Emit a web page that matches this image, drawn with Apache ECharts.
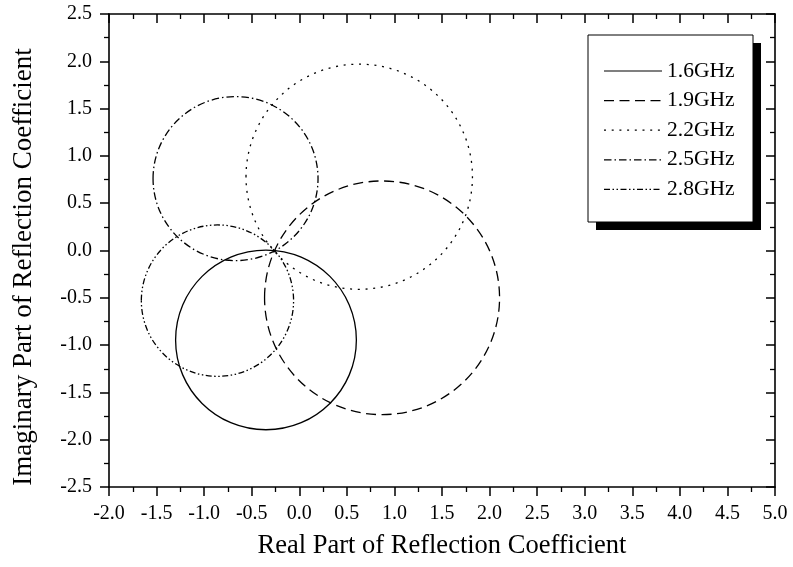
<!DOCTYPE html>
<html>
<head>
<meta charset="utf-8">
<script src="https://cdn.jsdelivr.net/npm/echarts@6/dist/echarts.min.js"></script>
<style>
  html, body { margin: 0; padding: 0; background: #fff; }
  #chart { width: 793px; height: 567px; }
</style>
</head>
<body>
<div id="chart"></div>
<script>
// Reflection coefficient circles, one per frequency
const frequencies = ['1.6GHz', '1.9GHz', '2.2GHz', '2.5GHz', '2.8GHz'];
const centerReal  = [-0.35, 0.87, 0.63, -0.67, -0.86];
const centerImag  = [-0.945, -0.50, 0.78, 0.76, -0.53];
const radii       = [0.95, 1.235, 1.19, 0.867, 0.80];

// Axis ranges and tick step
const xRange = [-2.0, 5.0];
const yRange = [-2.5, 2.5];
const tickStep = 0.5;

// Line patterns: solid, dash, dot, dash-dot, dash-dot-dot
const linePatterns = [
  null,
  [10, 5.5],
  [2, 5.7],
  [7.5, 3, 1.5, 3],
  [6, 2.5, 1.5, 2.5, 1.5, 2.5]
];

const FONT = '"Liberation Serif", "Times New Roman", serif';
const chart = echarts.init(document.getElementById('chart'), null, { renderer: 'canvas' });

function axisCommon(range, mirrored) {
  return {
    type: 'value',
    min: range[0],
    max: range[1],
    interval: tickStep,
    axisLine: { show: true, onZero: false, lineStyle: { color: '#000', width: 1.6 } },
    axisTick: { show: true, inside: mirrored, length: 9, lineStyle: { color: '#000', width: 1.5 } },
    minorTick: { show: true, splitNumber: 2, length: 5, lineStyle: { color: '#000', width: 1.3 } },
    splitLine: { show: false },
    minorSplitLine: { show: false },
    axisLabel: mirrored ? { show: false } : {
      show: true,
      color: '#000',
      fontFamily: FONT,
      fontSize: 20,
      margin: 17,
      formatter: v => v.toFixed(1)
    }
  };
}

const series = frequencies.map((name, i) => ({
  type: 'custom',
  name: name,
  coordinateSystem: 'cartesian2d',
  xAxisIndex: 0,
  yAxisIndex: 0,
  encode: { x: 0, y: 1 },
  data: [[centerReal[i], centerImag[i], radii[i]]],
  renderItem: function (params, api) {
    const c = api.coord([api.value(0), api.value(1)]);
    const s = api.size([api.value(2), api.value(2)]);
    return {
      type: 'ellipse',
      shape: { cx: c[0], cy: c[1], rx: s[0], ry: s[1] },
      style: {
        fill: null,
        stroke: '#000',
        lineWidth: 1.3,
        lineDash: linePatterns[i]
      }
    };
  }
}));

// Legend panel with drop shadow
const legendBox = { left: 588, top: 35, width: 165, height: 187, shadow: 8 };
const legendRowTop = 71, legendRowStep = 29.6;
const legendGraphics = [
  {
    type: 'rect', z: 100,
    shape: { x: legendBox.left + legendBox.shadow, y: legendBox.top + legendBox.shadow,
             width: legendBox.width, height: legendBox.height },
    style: { fill: '#000' }
  },
  {
    type: 'rect', z: 101,
    shape: { x: legendBox.left, y: legendBox.top, width: legendBox.width, height: legendBox.height },
    style: { fill: '#fff', stroke: '#000', lineWidth: 1 }
  }
];
frequencies.forEach((name, i) => {
  const y = legendRowTop + i * legendRowStep;
  legendGraphics.push({
    type: 'line', z: 102,
    shape: { x1: 604, y1: y, x2: 662, y2: y },
    style: { stroke: '#000', lineWidth: 1.2, lineDash: linePatterns[i] }
  });
  legendGraphics.push({
    type: 'text', z: 102,
    x: 667, y: y,
    style: { text: name, fill: '#000', font: '21.5px ' + FONT, textVerticalAlign: 'middle', textAlign: 'left' }
  });
});

const xBottom = Object.assign(axisCommon(xRange, false), {
  position: 'bottom',
  name: 'Real Part of Reflection Coefficient',
  nameLocation: 'middle',
  nameGap: 46,
  nameTextStyle: { color: '#000', fontFamily: FONT, fontSize: 26.5 }
});
const xTop = Object.assign(axisCommon(xRange, true), { position: 'top' });
const yLeft = Object.assign(axisCommon(yRange, false), {
  position: 'left',
  name: 'Imaginary Part of Reflection Coefficient',
  nameLocation: 'middle',
  nameRotate: 90,
  nameGap: 72,
  nameTextStyle: { color: '#000', fontFamily: FONT, fontSize: 27, padding: [0, 33, 0, 0] }
});
const yRight = Object.assign(axisCommon(yRange, true), { position: 'right' });

chart.setOption({
  backgroundColor: '#fff',
  animation: false,
  grid: { left: 109, right: 18, top: 14, bottom: 80, containLabel: false },
  xAxis: [xBottom, xTop],
  yAxis: [yLeft, yRight],
  series: series,
  graphic: legendGraphics
});
</script>
</body>
</html>
